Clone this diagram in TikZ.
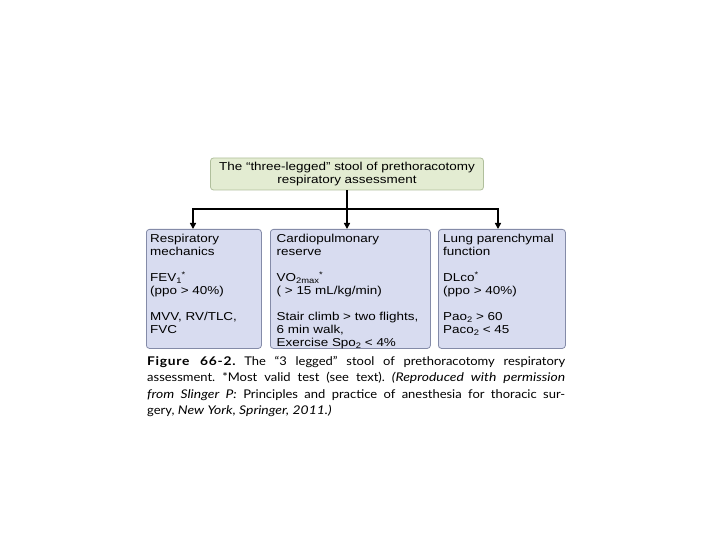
\documentclass[tikz,border=0pt]{standalone}
\usepackage{fontspec}
\setmainfont{Liberation Sans}
\newfontfamily\boxfont[FakeStretch=1.17]{Liberation Sans}
\newfontfamily\capfont[FakeStretch=1.08,ItalicFeatures={FakeStretch=1.16}]{Lato}
\newfontfamily\capbold[FakeStretch=1.15,LetterSpace=6]{Lato}
\usetikzlibrary{arrows.meta}
\definecolor{topfill}{HTML}{E3ECD2}
\definecolor{topdraw}{HTML}{B0BF9C}
\definecolor{legfill}{HTML}{D8DCF0}
\definecolor{legdraw}{HTML}{848BA8}
\newcommand\mysub[1]{\raisebox{-0.35ex}{\fontsize{8}{8}\selectfont #1}}
\newcommand\mysup[1]{\raisebox{0.7ex}{\fontsize{8}{8}\selectfont #1}}
\tikzset{
  topbox/.style={draw=topdraw, fill=topfill, line width=0.8pt, rounded corners=3pt,
    align=center, inner sep=0pt, font=\boxfont\fontsize{11.5}{12.5}\selectfont},
  legbox/.style={draw=legdraw, fill=legfill, line width=0.8pt, rounded corners=3pt, inner sep=0pt},
  legtext/.style={align=left, inner sep=0pt, font=\boxfont\fontsize{11.5}{13}\selectfont},
  arrline/.style={line width=1.8pt, -{Triangle[length=6pt,width=6pt]}},
  captext/.style={align=left, inner sep=0pt, font=\capfont\fontsize{12}{16.5}\selectfont\frenchspacing}
}
\begin{document}
\begin{tikzpicture}[x=1pt,y=-1pt]
\useasboundingbox (0,0) rectangle (720,540);
\node[topbox, minimum width=273pt, minimum height=32pt] (top) at (347,174)
  {The “three-legged” stool of prethoracotomy\\respiratory assessment};
\node[legbox, minimum width=115pt, minimum height=119pt, anchor=north west] (leg1) at (146,229) {};
\node[legbox, minimum width=160pt, minimum height=119pt, anchor=north west] (leg2) at (270,229) {};
\node[legbox, minimum width=127pt, minimum height=119pt, anchor=north west] (leg3) at (438,229) {};
\node[legtext, anchor=north west] (t1) at ([xshift=4pt,yshift=-5pt]leg1.north west)
  {Respiratory\\mechanics\\[13pt]FEV\mysub{1}\mysup{*}\\(ppo > 40\%)\\[13pt]MVV, RV/TLC,\\FVC};
\node[legtext, anchor=north west] (t2) at ([xshift=6.5pt,yshift=-5pt]leg2.north west)
  {Cardiopulmonary\\reserve\\[13pt]VO\mysub{2max}\mysup{*}\\( > 15 mL/kg/min)\\[13pt]Stair climb > two flights,\\6 min walk,\\Exercise Spo\mysub{2} < 4\%};
\node[legtext, anchor=north west] (t3) at ([xshift=5pt,yshift=-5pt]leg3.north west)
  {Lung parenchymal\\function\\[13pt]DLco\mysup{*}\\(ppo > 40\%)\\[13pt]Pao\mysub{2} > 60\\Paco\mysub{2} < 45};
\coordinate (bus) at (347,209);
\coordinate (b1) at (193,209);
\coordinate (b3) at (498,209);
\draw[arrline] (top.south) -- (top.south |- leg2.north);
\draw[arrline] (bus) -- (b1) -- (b1 |- leg1.north);
\draw[arrline] (bus) -- (b3) -- (b3 |- leg3.north);
\node[captext, anchor=north west] (cap) at (147,356)
  {\makebox[418pt][s]{{\capbold\bfseries Figure 66-2.} The “3 legged” stool of prethoracotomy respiratory}\\
   \makebox[418pt][s]{assessment. *Most valid test (see text). \textit{(Reproduced with permission}}\\
   \makebox[418pt][s]{\textit{from Slinger P:} Principles and practice of anesthesia for thoracic sur-}\\
   gery, \textit{New York, Springer, 2011.)}};
\end{tikzpicture}
\end{document}
